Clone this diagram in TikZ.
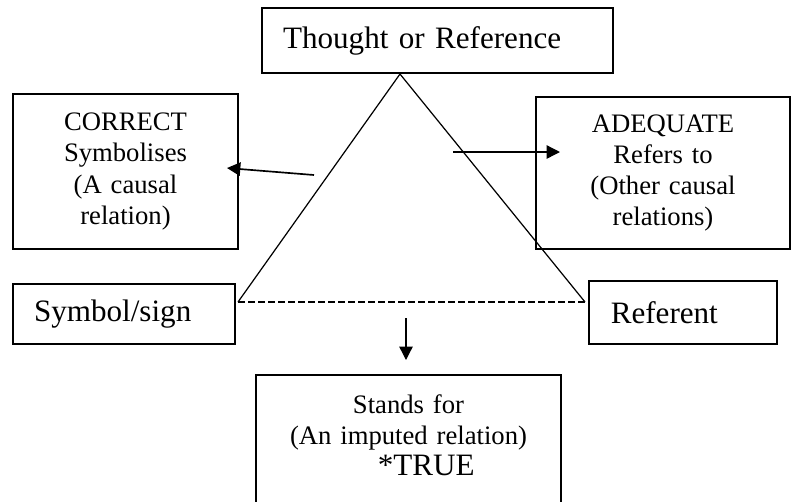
\documentclass[tikz,border=0pt]{standalone}
\usepackage{fontspec}
\setmainfont{Liberation Serif}
\usetikzlibrary{arrows.meta}
\newcommand{\smalltxt}{\fontsize{12}{14}\selectfont}
\newcommand{\bigtxt}{\fontsize{14}{16}\selectfont}

\begin{document}
\begin{tikzpicture}[x=0.45pt,y=-0.45pt,>={Triangle[length=6pt,width=6pt]}]
\tikzstyle{box}=[rectangle,draw,line width=0.7pt,inner sep=0pt,align=center,font=\smalltxt]
\tikzstyle{tag}=[rectangle,draw,line width=0.7pt,inner sep=0pt,align=left,font=\bigtxt]
\useasboundingbox (0,0) rectangle (792,501);
\node[tag,minimum width=158pt,minimum height=29.25pt,text width=139pt] (thought) at (437.5,40.5) {Thought or Reference};
\node[box,minimum width=101.25pt,minimum height=69.75pt,text width=90pt] (correct) at (125.5,171.5) {CORRECT\\Symbolises\\(A causal\\relation)};
\node[box,minimum width=114.3pt,minimum height=68.4pt,text width=100pt] (adequate) at (663,173) {ADEQUATE\\Refers to\\(Other causal\\relations)};
\node[tag,minimum width=99.9pt,minimum height=27pt,text width=81pt] (sym) at (124,314) {Symbol/sign};
\node[tag,minimum width=84.6pt,minimum height=28.35pt,text width=65pt] (refnt) at (683,312.5) {Referent};
\node[box,anchor=north,minimum width=137.25pt,text width=120pt,inner ysep=9pt,text depth=60pt] (stand) at (408.5,374) {Stands for\\(An imputed relation)\\{\bigtxt\hspace*{16pt}*TRUE}};
% triangle
\coordinate (apex) at (400,74);
\coordinate (bl) at (238,302);
\coordinate (br) at (585,302);
\draw[line width=0.55pt] (bl) -- (apex) -- (br);
\draw[line width=0.55pt,dash pattern=on 3pt off 1.5pt] (bl) -- (br);
% arrows
\coordinate (symfrom) at (314,175);
\coordinate (symto) at (227,168);
\coordinate (reffrom) at (453,152);
\coordinate (refto) at (560,152);
\coordinate (standfrom) at (406,318);
\coordinate (standto) at (406,360);
\draw[->,line width=0.75pt] (symfrom) -- (symto);
\draw[->,line width=0.6pt] (reffrom) -- (refto);
\draw[->,line width=0.6pt] (standfrom) -- (standto);
\end{tikzpicture}
\end{document}
